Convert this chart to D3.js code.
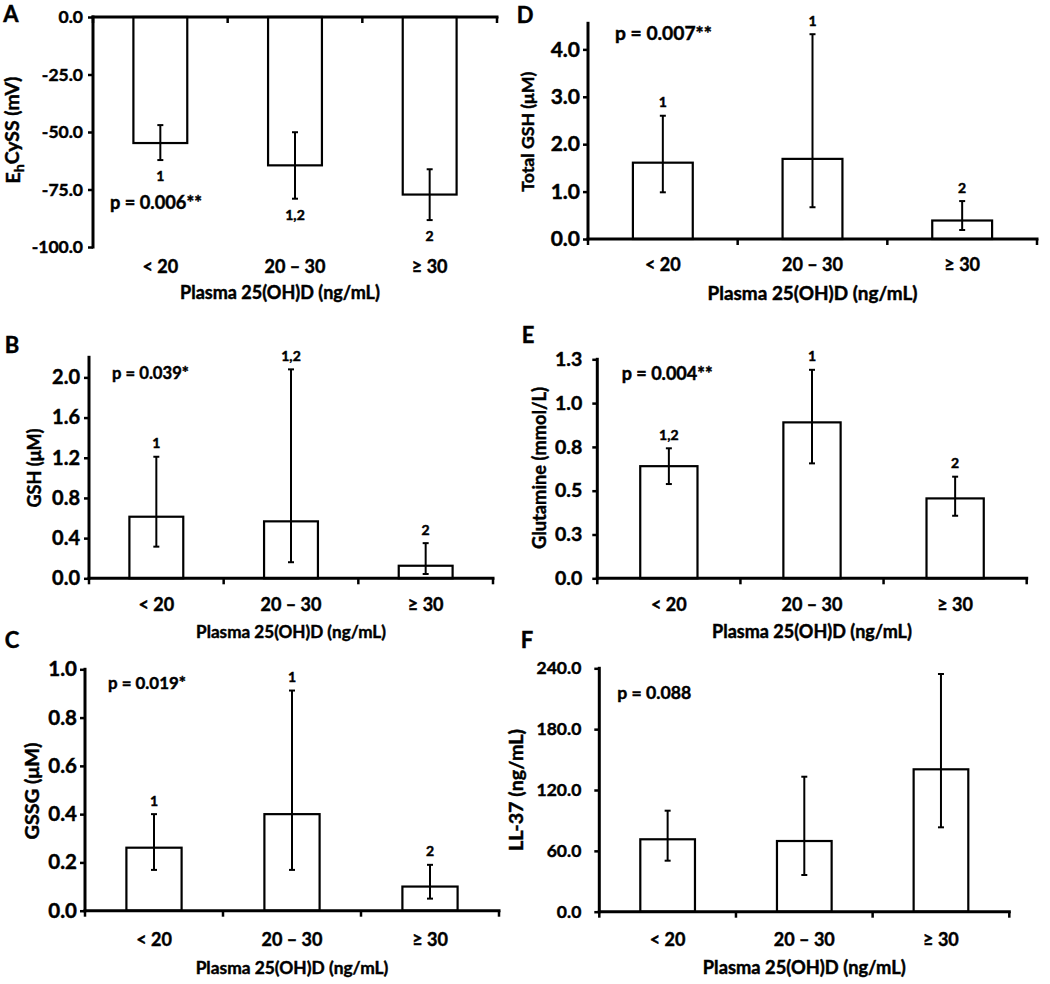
<!DOCTYPE html>
<html>
<head>
<meta charset="utf-8">
<script src="https://cdn.jsdelivr.net/npm/d3@7"></script>
<style>
  html, body { margin: 0; padding: 0; background: #fff; }
  svg { display: block; }
  text { font-family: Lato, "Open Sans", sans-serif; font-weight: bold; fill: #000; stroke: #000; stroke-width: 0.45px; }
</style>
</head>
<body>
<svg id="chart" width="1050" height="984"></svg>
<script>
// ---------------- DATA ----------------
const categories = ["< 20", "20 – 30", "≥ 30"];
const xAxisTitle = "Plasma 25(OH)D (ng/mL)";

// Panel A: EhCySS (mV)
const ehcyssMean = [-54.8, -64.5, -77.2];
const ehcyssErrHigh = [-47.0, -50.1, -66.2];
const ehcyssErrLow = [-62.2, -79.0, -88.3];
const ehcyssGroups = ["1", "1,2", "2"];
const ehcyssTicks = [0, -25, -50, -75, -100];
const ehcyssTickLabels = ["0.0", "-25.0", "-50.0", "-75.0", "-100.0"];
const ehcyssP = "p = 0.006**";

// Panel B: GSH (µM)
const gshMean = [0.613, 0.567, 0.125];
const gshErrHigh = [1.21, 2.08, 0.35];
const gshErrLow = [0.315, 0.16, 0.043];
const gshGroups = ["1", "1,2", "2"];
const gshTicks = [0, 0.4, 0.8, 1.2, 1.6, 2.0];
const gshTickLabels = ["0.0", "0.4", "0.8", "1.2", "1.6", "2.0"];
const gshP = "p = 0.039*";

// Panel C: GSSG (µM)
const gssgMean = [0.261, 0.40, 0.10];
const gssgErrHigh = [0.40, 0.912, 0.19];
const gssgErrLow = [0.169, 0.169, 0.05];
const gssgGroups = ["1", "1", "2"];
const gssgTicks = [0, 0.2, 0.4, 0.6, 0.8, 1.0];
const gssgTickLabels = ["0.0", "0.2", "0.4", "0.6", "0.8", "1.0"];
const gssgP = "p = 0.019*";

// Panel D: Total GSH (µM)
const totalGshMean = [1.61, 1.69, 0.39];
const totalGshErrHigh = [2.60, 4.32, 0.80];
const totalGshErrLow = [0.985, 0.67, 0.19];
const totalGshGroups = ["1", "1", "2"];
const totalGshTicks = [0, 1, 2, 3, 4];
const totalGshTickLabels = ["0.0", "1.0", "2.0", "3.0", "4.0"];
const totalGshP = "p = 0.007**";

// Panel E: Glutamine (mmol/L)
const glutamineMean = [0.64, 0.89, 0.456];
const glutamineErrHigh = [0.742, 1.19, 0.58];
const glutamineErrLow = [0.538, 0.656, 0.357];
const glutamineGroups = ["1,2", "1", "2"];
const glutamineTicks = [0, 0.25, 0.5, 0.75, 1.0, 1.25];
const glutamineTickLabels = ["0.0", "0.3", "0.5", "0.8", "1.0", "1.3"];
const glutamineP = "p = 0.004**";

// Panel F: LL-37 (ng/mL)
const ll37Mean = [71.4, 69.7, 140.4];
const ll37ErrHigh = [99.6, 133.1, 234.4];
const ll37ErrLow = [50.3, 36.2, 83.2];
const ll37Groups = ["", "", ""];
const ll37Ticks = [0, 60, 120, 180, 240];
const ll37TickLabels = ["0.0", "60.0", "120.0", "180.0", "240.0"];
const ll37P = "p = 0.088";

// ---------------- LAYOUT ----------------
const panels = [
  { letter: "A", mean: ehcyssMean, hi: ehcyssErrHigh, lo: ehcyssErrLow, groups: ehcyssGroups,
    ticks: ehcyssTicks, tickLabels: ehcyssTickLabels, p: ehcyssP, yTitle: ["E", "h", "CySS (mV)"],
    domain: [-100, 0], left: 93, right: 497, yTopPx: 17, yBotPx: 247, tickFont: 17.5, tickPad: 5,
    xLabelY: 267, xTitleY: 293, xTitleX: 280, xTitleLen: 200, yTitleX: 13, yTitleY: 130, yTitleLen: 107,
    pX: 110, pY: 203, pLen: 92, letterX: 11, letterY: 14 },
  { letter: "D", mean: totalGshMean, hi: totalGshErrHigh, lo: totalGshErrLow, groups: totalGshGroups,
    ticks: totalGshTicks, tickLabels: totalGshTickLabels, p: totalGshP, yTitle: ["Total GSH (μM)"],
    domain: [0, 4.55], left: 588, right: 1037, yTopPx: 23.3, yBotPx: 239, tickFont: 21, tickPad: 3,
    xLabelY: 265, xTitleY: 293, xTitleX: null, xTitleLen: 210, yTitleX: 528, yTitleY: 131.7, yTitleLen: 120,
    pX: 615, pY: 33, pLen: 97, letterX: 525, letterY: 15 },
  { letter: "B", mean: gshMean, hi: gshErrHigh, lo: gshErrLow, groups: gshGroups,
    ticks: gshTicks, tickLabels: gshTickLabels, p: gshP, yTitle: ["GSH (μM)"],
    domain: [0, 2.2], left: 89, right: 493, yTopPx: 357.3, yBotPx: 578.3, tickFont: 20, tickPad: 4,
    xLabelY: 605, xTitleY: 632, xTitleX: null, xTitleLen: 190, yTitleX: 35, yTitleY: 468, yTitleLen: 79,
    pX: 112, pY: 373.3, pLen: 77, letterX: 12, letterY: 345 },
  { letter: "E", mean: glutamineMean, hi: glutamineErrHigh, lo: glutamineErrLow, groups: glutamineGroups,
    ticks: glutamineTicks, tickLabels: glutamineTickLabels, p: glutamineP, yTitle: ["Glutamine (mmol/L)"],
    domain: [0, 1.25], left: 597.3, right: 1026.7, yTopPx: 359.3, yBotPx: 578.3, tickFont: 19.5, tickPad: 10,
    xLabelY: 605, xTitleY: 632, xTitleX: null, xTitleLen: 200, yTitleX: 540, yTitleY: 468, yTitleLen: 162,
    pX: 621.7, pY: 373.3, pLen: 91, letterX: 528, letterY: 335 },
  { letter: "C", mean: gssgMean, hi: gssgErrHigh, lo: gssgErrLow, groups: gssgGroups,
    ticks: gssgTicks, tickLabels: gssgTickLabels, p: gssgP, yTitle: ["GSSG (μM)"],
    domain: [0, 1.0], left: 85, right: 499, yTopPx: 669.3, yBotPx: 910.7, tickFont: 20.5, tickPad: 3,
    xLabelY: 940, xTitleY: 968, xTitleX: null, xTitleLen: 193, yTitleX: 32, yTitleY: 791, yTitleLen: 97,
    pX: 108, pY: 683.3, pLen: 78, letterX: 12, letterY: 640 },
  { letter: "F", mean: ll37Mean, hi: ll37ErrHigh, lo: ll37ErrLow, groups: ll37Groups,
    ticks: ll37Ticks, tickLabels: ll37TickLabels, p: ll37P, yTitle: ["LL-37 (ng/mL)"],
    domain: [0, 240], left: 599.3, right: 1009.3, yTopPx: 668.3, yBotPx: 911.7, tickFont: 17.5, tickPad: 13,
    xLabelY: 940, xTitleY: 968, xTitleX: null, xTitleLen: 203, yTitleX: 516, yTitleY: 790, yTitleLen: 122,
    pX: 617.3, pY: 693.3, pLen: 74, letterX: 527, letterY: 640 }
];

// scale a text's font-size so that its rendered length matches a target
function fitText(sel, base, target) {
  const len = sel.node().getComputedTextLength();
  if (len > 0 && target) {
    const k = target / len;
    sel.attr("font-size", base * k);
    sel.selectAll("tspan").each(function () {
      const fs = +d3.select(this).attr("font-size");
      if (fs) d3.select(this).attr("font-size", fs * k);
    });
  }
}

const svg = d3.select("#chart");
svg.append("rect").attr("width", 1050).attr("height", 984).attr("fill", "#fff");

panels.forEach(P => {
  const g = svg.append("g");
  const y = d3.scaleLinear().domain(P.domain).range([P.yBotPx, P.yTopPx]);
  const x = d3.scaleBand().domain(categories).range([P.left, P.right])
    .paddingInner(0.6).paddingOuter(0.3);
  const y0 = y(0);
  const negative = P.domain[1] <= 0;

  // bars
  g.selectAll("rect.bar").data(categories).join("rect")
    .attr("class", "bar")
    .attr("x", d => x(d))
    .attr("width", x.bandwidth())
    .attr("y", (d, i) => Math.min(y(P.mean[i]), y0))
    .attr("height", (d, i) => Math.abs(y(P.mean[i]) - y0))
    .attr("fill", "#fff").attr("stroke", "#000").attr("stroke-width", 2.2);

  // error bars
  const cx = d => x(d) + x.bandwidth() / 2;
  const eb = g.selectAll("g.eb").data(categories).join("g").attr("class", "eb");
  eb.append("line")
    .attr("x1", cx).attr("x2", cx)
    .attr("y1", (d, i) => y(P.hi[i])).attr("y2", (d, i) => y(P.lo[i]))
    .attr("stroke", "#000").attr("stroke-width", 2);
  eb.append("line")
    .attr("x1", d => cx(d) - 3).attr("x2", d => cx(d) + 3)
    .attr("y1", (d, i) => y(P.hi[i])).attr("y2", (d, i) => y(P.hi[i]))
    .attr("stroke", "#000").attr("stroke-width", 2);
  eb.append("line")
    .attr("x1", d => cx(d) - 3).attr("x2", d => cx(d) + 3)
    .attr("y1", (d, i) => y(P.lo[i])).attr("y2", (d, i) => y(P.lo[i]))
    .attr("stroke", "#000").attr("stroke-width", 2);

  // group letters
  g.selectAll("text.grp").data(categories).join("text")
    .attr("class", "grp")
    .attr("x", cx)
    .attr("y", (d, i) => negative ? y(P.lo[i]) + 21 : y(P.hi[i]) - 8.5)
    .attr("text-anchor", "middle")
    .attr("font-size", 14)
    .text((d, i) => P.groups[i]);

  // y axis
  const yAxis = d3.axisLeft(y).tickValues(P.ticks).tickSize(5).tickPadding(P.tickPad)
    .tickFormat((d, i) => P.tickLabels[i]);
  const ya = g.append("g").attr("transform", `translate(${P.left},0)`).call(yAxis);
  ya.select(".domain").remove();
  ya.selectAll(".tick line").attr("stroke", "#000").attr("stroke-width", 2.5);
  ya.selectAll(".tick text").attr("font-size", P.tickFont).attr("font-family", "Lato, sans-serif")
    .attr("font-weight", "bold").attr("fill", "#000");
  g.append("line").attr("x1", P.left).attr("x2", P.left)
    .attr("y1", P.yTopPx - 1.5).attr("y2", P.yBotPx + 1.5)
    .attr("stroke", "#000").attr("stroke-width", 3);

  // x axis (category axis at value 0)
  g.append("line").attr("x1", P.left - 1.5).attr("x2", P.right + 1.5)
    .attr("y1", y0).attr("y2", y0).attr("stroke", "#000").attr("stroke-width", 3);
  const bounds = d3.range(categories.length + 1).map(k => P.left + k * x.step());
  g.selectAll("line.xt").data(bounds).join("line").attr("class", "xt")
    .attr("x1", d => d).attr("x2", d => d).attr("y1", y0).attr("y2", y0 + 6)
    .attr("stroke", "#000").attr("stroke-width", 2.5);

  // x tick labels
  g.selectAll("text.xl").data(categories).join("text").attr("class", "xl")
    .attr("x", cx).attr("y", P.xLabelY).attr("dy", "0.35em")
    .attr("text-anchor", "middle").attr("font-size", 18).text(d => d);

  // x axis title
  const xt = g.append("text")
    .attr("x", P.xTitleX != null ? P.xTitleX : (P.left + P.right) / 2)
    .attr("y", P.xTitleY).attr("dy", "0.35em")
    .attr("text-anchor", "middle").attr("font-size", 18).text(xAxisTitle);
  fitText(xt, 18, P.xTitleLen);

  // y axis title
  const yt = g.append("text")
    .attr("transform", `translate(${P.yTitleX},${P.yTitleY}) rotate(-90)`)
    .attr("text-anchor", "middle").attr("dy", "0.35em").attr("font-size", 16.5);
  if (P.yTitle.length === 3) {
    yt.append("tspan").text(P.yTitle[0]);
    yt.append("tspan").attr("font-size", 12).attr("dy", "0.3em").text(P.yTitle[1]);
    yt.append("tspan").attr("dy", "-0.25em").text(P.yTitle[2]);
  } else {
    yt.text(P.yTitle[0]);
  }
  fitText(yt, 16.5, P.yTitleLen);

  // p-value
  const pt = g.append("text").attr("x", P.pX).attr("y", P.pY).attr("dy", "0.35em")
    .attr("font-size", 18).text(P.p);
  fitText(pt, 18, P.pLen);

  // panel letter
  g.append("text").attr("x", P.letterX).attr("y", P.letterY).attr("dy", "0.35em")
    .attr("text-anchor", "middle").attr("font-size", 22).text(P.letter);
});
</script>
</body>
</html>
